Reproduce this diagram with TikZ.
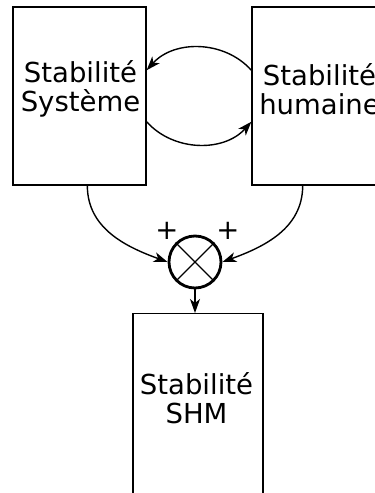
\documentclass[tikz,border=0pt]{standalone}
\usepackage{fontspec}
\setmainfont{DejaVu Sans}
\usetikzlibrary{arrows.meta, positioning, calc}

\begin{document}
\begin{tikzpicture}[
        x=1pt, y=1pt,
        font=\fontsize{27.5}{29.5}\selectfont,
        every node/.style={align=center},
        bloc/.style={
            rectangle, draw=black, line width=1.3pt,
            minimum width=133pt, minimum height=178pt,
            inner sep=0pt
        },
        label/.style={inner sep=0pt},
        mult/.style={
            circle, draw=black, line width=2.8pt,
            minimum size=52pt, inner sep=0pt
        },
        arr/.style={-{Stealth[length=14pt,width=10pt,inset=4pt]}, line width=1.4pt, black}
    ]
    \clip (0,0) rectangle (375,493);
    \node[bloc] (sys) at (79.5,397) {};
    \node[bloc] (hum) at (318.5,397) {};
    \node[bloc, minimum width=130pt, minimum height=220pt, anchor=north] (shm) at (198,180) {};
    \node[label] (tsys) at ($(sys.center)+(1,7)$) {Stabilité\\Système};
    \node[label] (thum) at ($(hum.center)+(1,7)$) {Stabilité\\humaine};
    \node[label] (tshm) at (196.5,95) {Stabilité\\SHM};
    \node[mult] (mul) at (195,231) {};
    \draw[line width=1.1pt] (mul.45) -- (mul.225);
    \draw[line width=1.1pt] (mul.135) -- (mul.-45);
    \node[label] (plus1) at (167,262) {+};
    \node[label] (plus2) at (228,262) {+};
    \draw[arr] (hum.159) to[bend right=48] (sys.21);
    \draw[arr] (sys.-21) to[bend right=48] (hum.201);
    \draw[arr] (sys.-85) to[out=-90, in=160] (mul.west);
    \draw[arr] (hum.-100) to[out=-90, in=20] (mul.east);
    \draw[arr] (mul.south) -- (mul.south |- shm.north);
\end{tikzpicture}
\end{document}
